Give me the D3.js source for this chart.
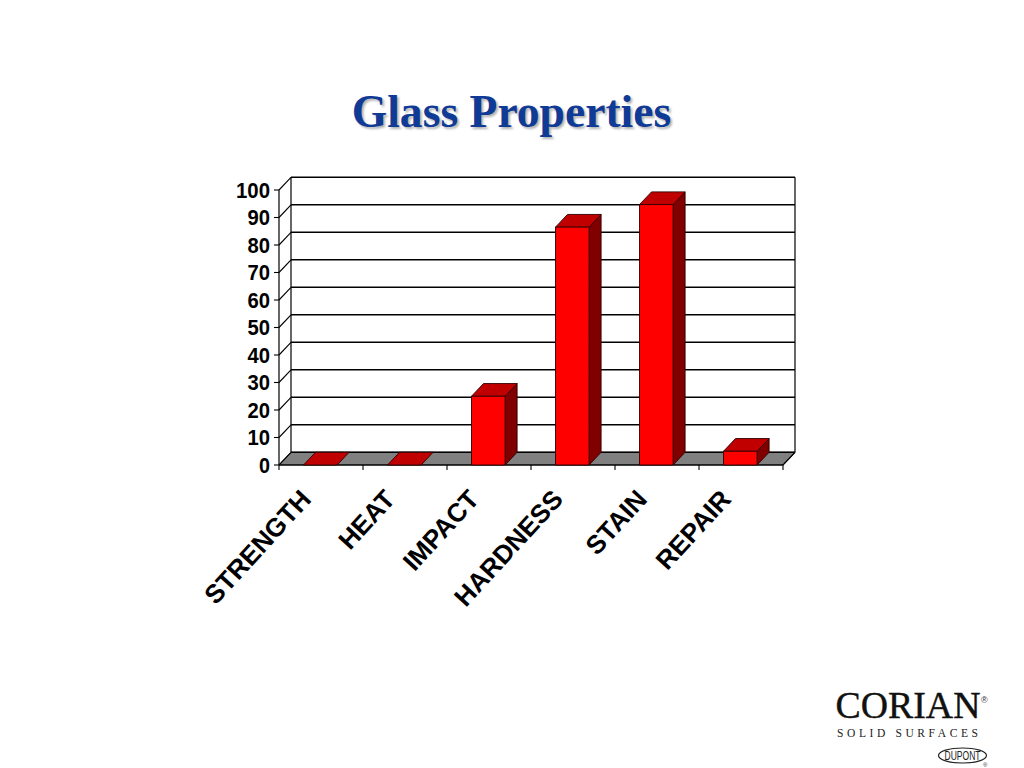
<!DOCTYPE html>
<html><head><meta charset="utf-8">
<script src="https://cdnjs.cloudflare.com/ajax/libs/d3/7.8.5/d3.min.js"></script>
<style>html,body{margin:0;padding:0;background:#fff}svg{display:block}</style></head>
<body><svg id="c" width="1024" height="768"></svg>
<script>
const categories = ["STRENGTH","HEAT","IMPACT","HARDNESS","STAIN","REPAIR"];
const values = [0,0,25,86.5,94.7,5];
const yTicks = [0,10,20,30,40,50,60,70,80,90,100];
const titleText = "Glass Properties";

const svg = d3.select("#c");
const dx = 12, dy = -12.7;
const L = 279, R = 783;
const x = d3.scaleBand().domain(categories).range([L-0.7,R-0.7]).paddingInner(0.6).paddingOuter(0.3);
const xb = d3.scaleBand().domain(categories).range([L,R]);
const y = d3.scaleLinear().domain([0,100]).range([465,190]);
const line = d3.line();

svg.append("defs").append("filter").attr("id","blur").append("feGaussianBlur").attr("stdDeviation",0.8);

// title
const tAttrs = s => s.attr("text-anchor","middle").attr("font-family","'Liberation Serif'").attr("font-weight","bold").attr("font-size",45.6);
svg.append("text").call(tAttrs).attr("x",513.5).attr("y",128.5).attr("fill","#b0b0b0").attr("filter","url(#blur)").text(titleText);
svg.append("text").call(tAttrs).attr("x",511.5).attr("y",126.5).attr("fill","#0f3a96").text(titleText);

// floor
svg.append("path").attr("d",line([[L,465],[L+dx,465+dy],[R+dx,465+dy],[R,465]])+"Z")
  .attr("fill","#808080").attr("stroke","#000").attr("stroke-width",1);

// back wall gridlines, side wall ticks and value labels
yTicks.forEach(t=>{
  svg.append("line").attr("x1",L+dx).attr("x2",R+dx).attr("y1",y(t)+dy).attr("y2",y(t)+dy).attr("stroke","#000").attr("stroke-width",1.4);
  svg.append("line").attr("x1",L).attr("x2",L+dx).attr("y1",y(t)).attr("y2",y(t)+dy).attr("stroke","#000").attr("stroke-width",1.1);
  svg.append("line").attr("x1",L-5).attr("x2",L).attr("y1",y(t)).attr("y2",y(t)).attr("stroke","#000").attr("stroke-width",1.1);
  svg.append("text").attr("x",L-9).attr("y",y(t)+7.5).attr("text-anchor","end")
    .attr("font-family","'Liberation Sans'").attr("font-weight","bold").attr("font-size",21.5)
    .attr("textLength",t==100?34:t==0?11:22.5).attr("lengthAdjust","spacingAndGlyphs").text(t);
});
// walls
[[ [L,y(0)],[L,y(100)] ],[ [L+dx,y(0)+dy],[L+dx,y(100)+dy] ],[ [R+dx,y(0)+dy],[R+dx,y(100)+dy] ],[ [R,465],[R+dx,465+dy] ],[ [L,465],[R,465] ]]
 .forEach(p=>svg.append("path").attr("d",line(p)).attr("stroke","#000").attr("stroke-width",1.2).attr("fill","none"));
// x ticks
function tick(px){svg.append("line").attr("x1",px).attr("x2",px).attr("y1",465).attr("y2",470).attr("stroke","#000").attr("stroke-width",1.1);}
categories.forEach(c=>tick(xb(c)));
tick(R);

// bars
categories.forEach((c,i)=>{
  const x0 = x(c), bw = x.bandwidth(), x1 = x0+bw, t = y(values[i]), b = y(0);
  const g = svg.append("g").attr("stroke","#300000").attr("stroke-width",0.9).attr("stroke-linejoin","round");
  if(values[i]>0){
    g.append("path").attr("d",line([[x1,b],[x1+dx,b+dy],[x1+dx,t+dy],[x1,t]])+"Z").attr("fill","#800000");
  }
  g.append("path").attr("d",line([[x0,t],[x0+dx,t+dy],[x1+dx,t+dy],[x1,t]])+"Z").attr("fill","#c00000");
  if(values[i]>0){
    g.append("rect").attr("x",x0).attr("y",t).attr("width",bw).attr("height",b-t).attr("fill","#ff0000");
  }
  // category label
  const ax = xb(c)+xb.bandwidth()/2-22, ay = 488;
  svg.append("text").attr("transform",`translate(${ax},${ay}) rotate(-47.5)`).attr("text-anchor","end").attr("dy","0.7em")
    .attr("font-family","'Liberation Sans'").attr("font-weight","bold").attr("font-size",26).text(c);
});

// logo
svg.append("text").attr("x",835.5).attr("y",718).attr("font-family","'Liberation Serif'").attr("font-size",38).attr("textLength",145).attr("lengthAdjust","spacingAndGlyphs").attr("fill","#111").attr("stroke","#111").attr("stroke-width",0.4).text("CORIAN");
svg.append("text").attr("x",981).attr("y",703).attr("font-family","'Liberation Sans'").attr("font-size",9).attr("fill","#333").text("®");
svg.append("text").attr("x",837).attr("y",737).attr("font-family","'Liberation Serif'").attr("font-size",11.5).attr("textLength",141).attr("fill","#222").text("SOLID SURFACES");
svg.append("ellipse").attr("cx",962.5).attr("cy",755.5).attr("rx",24).attr("ry",7.5).attr("fill","none").attr("stroke","#222").attr("stroke-width",1.2);
svg.append("text").attr("x",962.5).attr("y",759.5).attr("text-anchor","middle").attr("font-family","'Liberation Sans'").attr("font-size",12).attr("textLength",36).attr("lengthAdjust","spacingAndGlyphs").attr("fill","#222").text("DUPONT");
svg.append("text").attr("x",983).attr("y",767).attr("font-family","'Liberation Sans'").attr("font-size",6).attr("fill","#333").text("®");
</script></body></html>
